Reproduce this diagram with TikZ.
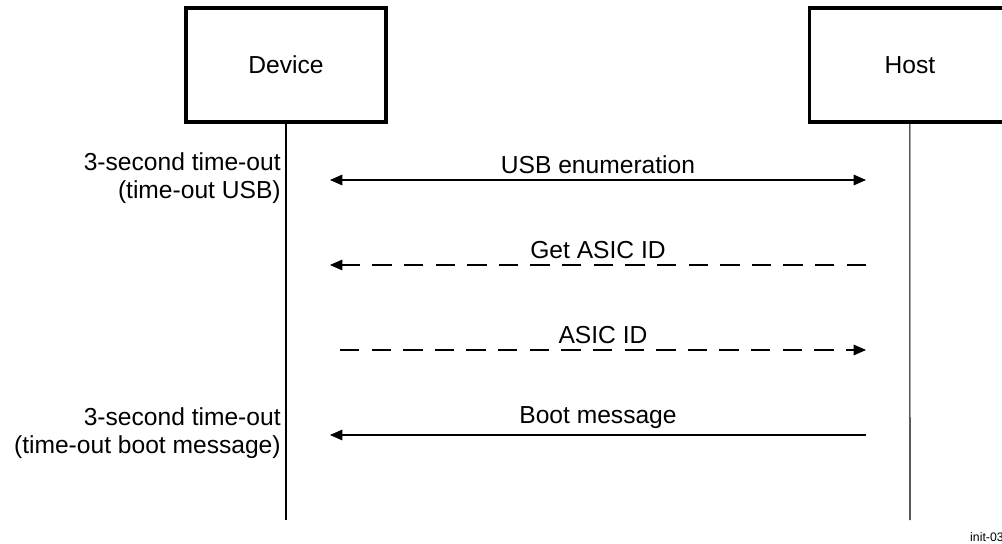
\documentclass[tikz,border=0pt]{standalone}
\usepackage{fontspec}
\setmainfont{Liberation Sans}
\usetikzlibrary{arrows.meta, positioning}

\begin{document}
\begin{tikzpicture}[
            x=0.02cm, y=-0.02cm,
            every node/.style={font=\fontsize{14}{16}\selectfont},
            party/.style={
                    rectangle,
                    draw,
                    line width=1.8pt,
                    outer sep=0pt,
                    minimum width=4cm,
                    minimum height=2.28cm
                },
            lifeline/.style={
                    line width=0.6pt
                },
            msg/.style={
            -{Triangle[length=7pt,width=6pt]},
            line width=0.6pt,
            shorten >=0.88cm,
            shorten <=0.88cm
            },
            msgdash/.style={
            msg,
            dash pattern=on 11pt off 7pt
            },
            timeout/.style={
                    align=right,
                    anchor=east,
                    inner sep=0pt
                }
            ]
            \useasboundingbox (0,0) rectangle (1002,544);

            % Node peserta
            \node (device) [party] at (286,65) {Device};
            \node (host) [party, right=8.48cm of device] {Host};

            % Garis hidup
            \coordinate (deviceend) at (286,520);
            \coordinate (hostend) at (910,520);
            \draw [lifeline] (device.south) -- (deviceend);
            \draw [lifeline] (host.south) -- (hostend);

            % Titik pesan
            \coordinate (d1) at (286,180);
            \coordinate (h1) at (910,180);
            \coordinate (d2) at (286,265);
            \coordinate (h2) at (910,265);
            \coordinate (d3) at (296,350);
            \coordinate (h3) at (910,350);
            \coordinate (d4) at (286,435);
            \coordinate (h4) at (910,435);

            % Garis panah
            \draw [msg, {Triangle[length=7pt,width=6pt]}-{Triangle[length=7pt,width=6pt]}] (d1) -- node [above=0pt] {USB enumeration} (h1);
            \draw [msgdash] (h2) -- node [above=0pt] {Get ASIC ID} (d2);
            \draw [msgdash] (d3) -- node [above=0pt] {ASIC ID} (h3);
            \draw [msg] (h4) -- node [above=0pt] {Boot message} (d4);

            % Keterangan time-out
            \node (timeoutusb) [timeout] at (281,178) {3-second time-out\\(time-out USB)};
            \node (timeoutboot) [timeout] at (281,433) {3-second time-out\\(time-out boot message)};

            \node (label) [anchor=west, font=\fontsize{7}{8}\selectfont] at (964,537) {init-03};

        \end{tikzpicture}
\end{document}
